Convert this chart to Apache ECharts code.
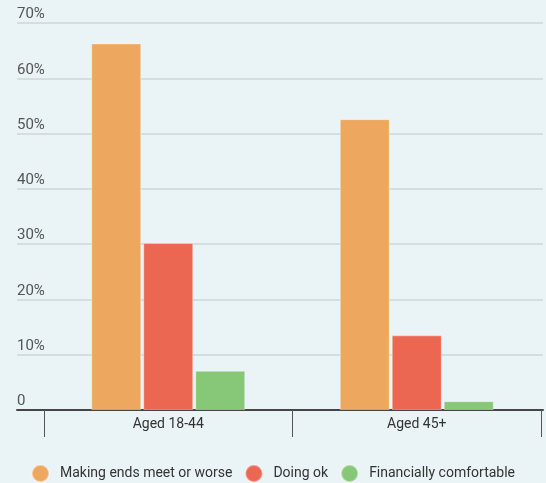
<!DOCTYPE html>
<html><head><meta charset="utf-8">
<script src="https://cdn.jsdelivr.net/npm/echarts@6/dist/echarts.min.js"></script>
<style>html,body{margin:0;padding:0;background:#EAF3F6;}#c{width:546px;height:483px;}</style>
</head><body><div id="c"></div>
<script>
const categories = ['Aged 18-44', 'Aged 45+'];
const seriesNames = ['Making ends meet or worse', 'Doing ok', 'Financially comfortable'];
const making = [66.3, 52.6];
const doingOk = [30.2, 13.5];
const comfortable = [7.1, 1.6];
const yTicks = [0, 10, 20, 30, 40, 50, 60, 70];
const colors = ['#EDA75F', '#EC6752', '#87C878'];

const values = [making, doingOk, comfortable];
const chart = echarts.init(document.getElementById('c'));
const font = 'Roboto';
chart.setOption({
  backgroundColor: '#EAF3F6',
  animation: false,
  textStyle: { fontFamily: font },
  grid: [
    { left: 17, right: 3, top: 23, bottom: 73 },
    { left: 44, right: 5, top: 23, bottom: 73 }
  ],
  xAxis: [
    { gridIndex: 0, type: 'value', min: 0, max: 1, axisLine: { show: true, onZero: false, lineStyle: { color: '#454545', width: 2 } },
      axisTick: { show: false }, axisLabel: { show: false }, splitLine: { show: false } },
    { gridIndex: 1, type: 'category', data: categories, axisLine: { show: false },
      axisTick: { show: true, length: 27, lineStyle: { color: '#555', width: 1 } },
      axisLabel: { margin: 7, color: '#333', fontSize: 14, fontFamily: font } }
  ],
  yAxis: [
    { gridIndex: 0, type: 'value', min: yTicks[0], max: yTicks[yTicks.length - 1], interval: 10,
      axisLine: { show: false }, axisTick: { show: false },
      splitLine: { show: true, lineStyle: { color: '#D5DDE1', width: 2 } },
      axisLabel: { inside: true, margin: 0, verticalAlign: 'bottom', padding: [0, 0, 1, 0], color: '#555', fontSize: 15, fontFamily: font,
        formatter: v => v === 0 ? '0' : v + '%' } },
    { gridIndex: 1, type: 'value', min: yTicks[0], max: yTicks[yTicks.length - 1], show: false }
  ],
  legend: {
    bottom: 0, padding: 0, left: 'center', icon: 'circle', itemWidth: 17, itemHeight: 17, itemGap: 12,
    textStyle: { color: '#333', fontSize: 14, fontFamily: font, padding: [0, 0, 0, 6] },
    data: seriesNames
  },
  series: seriesNames.map((n, i) => ({
    name: n, type: 'bar', xAxisIndex: 1, yAxisIndex: 1, data: values[i],
    barWidth: 50, barGap: '4%',
    itemStyle: { color: colors[i], borderColor: 'rgba(255,255,255,0.35)', borderWidth: 1 }
  }))
});
</script></body></html>
